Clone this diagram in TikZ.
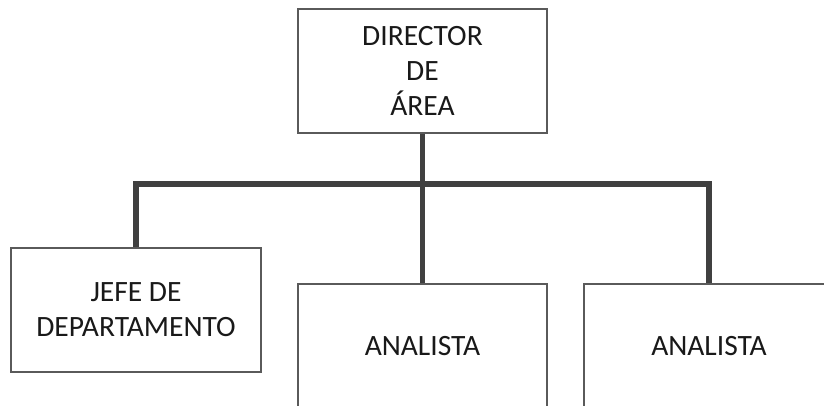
\documentclass[tikz,border=0pt]{standalone}
\usepackage{fontspec}
\setmainfont{Carlito}
\usepackage{tikz}
\usepackage{xcolor}
\usetikzlibrary{calc, positioning}

\definecolor{boxline}{HTML}{5A5A5A}
\definecolor{barline}{HTML}{404040}

\tikzset{
    puesto/.style={draw=boxline, line width=1.6pt, fill=white, align=center,
        minimum width=249pt, minimum height=124pt, inner sep=0pt,
        font=\fontsize{29.5}{35}\selectfont, text=black!90},
    enlace/.style={draw=barline, line width=5.5pt}
}

\begin{document}
\begin{tikzpicture}[x=1pt, y=-1pt]
                        \useasboundingbox (0, 0) rectangle (824, 406);

                        \node[puesto] (director) at (422.5, 71) {DIRECTOR\\DE\\ÁREA};
                        \node[puesto, minimum width=250pt] (jefe) at (136, 310) {JEFE DE\\DEPARTAMENTO};
                        \node[puesto] (analista1) at (422.5, 346) {ANALISTA};
                        \node[puesto, minimum width=250pt] (analista2) at (709, 346) {ANALISTA};

                        \coordinate (barra) at (422.5, 184);

                        \draw[enlace] (director.south) -- (analista1.north);
                        \draw[enlace] (jefe.north) |- (barra) -| (analista2.north);
                    \end{tikzpicture}
\end{document}
